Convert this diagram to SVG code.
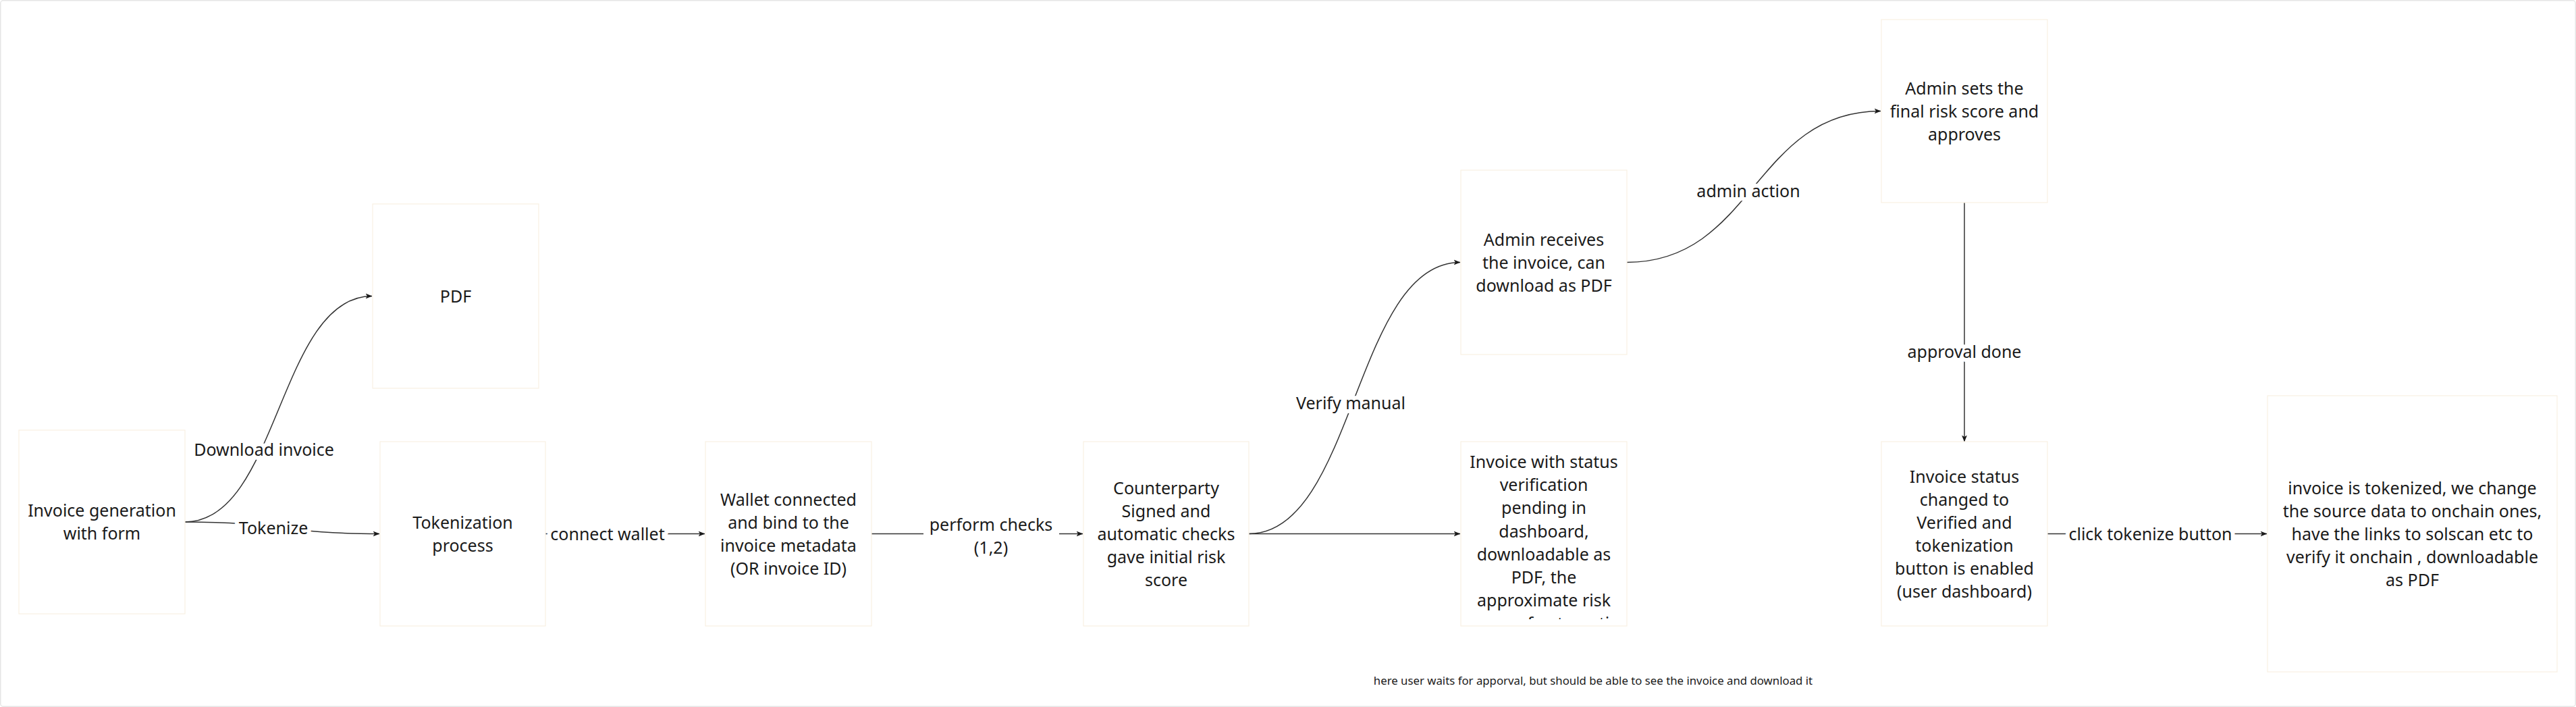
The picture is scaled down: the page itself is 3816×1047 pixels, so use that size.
<svg xmlns="http://www.w3.org/2000/svg" width="3816" height="1047" viewBox="0 0 3816 1047">
<style>
.bg{fill:#ffffff}
.frame{fill:none;stroke:#e6e6e6;stroke-width:1.5}
.node rect{fill:#ffffff;stroke:#f8f0e3;stroke-width:1.2}
.t{font-family:"Noto Sans","Open Sans","DejaVu Sans",sans-serif;font-size:25px;fill:#1a1a1a;text-anchor:middle}
.lbl{font-family:"Noto Sans","Open Sans","DejaVu Sans",sans-serif;font-size:25px;fill:#1a1a1a;text-anchor:middle;stroke:#ffffff;stroke-width:12px;stroke-linejoin:round;paint-order:stroke}
.lblbg{fill:#ffffff}
.note{font-family:"Noto Sans","Open Sans","DejaVu Sans",sans-serif;font-size:16.8px;fill:#1a1a1a;text-anchor:middle}
.edge{fill:none;stroke:#333333;stroke-width:1.5}
</style>
<defs>
<marker id="arr" viewBox="0 0 10 10" refX="9.5" refY="5" markerWidth="10" markerHeight="10" markerUnits="userSpaceOnUse" orient="auto">
<path d="M0,1 L10,5 L0,9 L2.5,5 Z" fill="#1a1a1a"/>
</marker>
<clipPath id="clipPending"><rect x="2164" y="654" width="246" height="263"/></clipPath>
</defs>
<rect class="bg" x="0" y="0" width="3816" height="1047"/>
<rect class="frame" x="0.75" y="0.75" width="3814.5" height="1045.5" rx="4"/>

<g id="connectors">
<path class="edge" d="M274,773 C413,773 413,438.5 551,438.5" marker-end="url(#arr)"/>
<path class="edge" d="M274,773 C418,773 418,790.5 562,790.5" marker-end="url(#arr)"/>
<path class="edge" d="M808,790.5 L1044,790.5" marker-end="url(#arr)"/>
<path class="edge" d="M1291,790.5 L1604,790.5" marker-end="url(#arr)"/>
<path class="edge" d="M1850,790.5 C2006.5,790.5 2006.5,388.5 2163,388.5" marker-end="url(#arr)"/>
<path class="edge" d="M1850,790.5 L2163,790.5" marker-end="url(#arr)"/>
<path class="edge" d="M2410,388.5 C2598,388.5 2598,164.5 2786,164.5" marker-end="url(#arr)"/>
<path class="edge" d="M2910,300 L2910,654" marker-end="url(#arr)"/>
<path class="edge" d="M3033,790.5 L3358,790.5" marker-end="url(#arr)"/>
<text class="lbl" x="391" y="675">Download invoice</text>
<text class="lbl" x="405" y="791">Tokenize</text>
<text class="lbl" x="900" y="800">connect wallet</text>
<rect class="lblbg" x="1368" y="758" width="201" height="72"/>
<text class="lbl"><tspan x="1468" y="785.5">perform checks</tspan><tspan x="1468" y="819.5">(1,2)</tspan></text>
<text class="lbl" x="2001" y="606">Verify manual</text>
<text class="lbl" x="2590" y="292">admin action</text>
<text class="lbl" x="2910" y="530">approval done</text>
<text class="lbl" x="3185.5" y="800">click tokenize button</text>
</g>

<g id="node-invoice-generation" class="node">
<rect x="28" y="637" width="246" height="272"/>
<text class="t"><tspan x="151" y="765">Invoice generation</tspan><tspan x="151" y="799">with form</tspan></text>
</g>
<g id="node-pdf" class="node">
<rect x="552" y="302" width="246" height="273"/>
<text class="t" x="675" y="447.5">PDF</text>
</g>
<g id="node-tokenization" class="node">
<rect x="563" y="654" width="245" height="273"/>
<text class="t"><tspan x="685.5" y="782.5">Tokenization</tspan><tspan x="685.5" y="816.5">process</tspan></text>
</g>
<g id="node-wallet" class="node">
<rect x="1045" y="654" width="246" height="273"/>
<text class="t"><tspan x="1168" y="748.5">Wallet connected</tspan><tspan x="1168" y="782.5">and bind to the</tspan><tspan x="1168" y="816.5">invoice metadata</tspan><tspan x="1168" y="850.5">(OR invoice ID)</tspan></text>
</g>
<g id="node-counterparty" class="node">
<rect x="1605" y="654" width="245" height="273"/>
<text class="t"><tspan x="1727.5" y="731.5">Counterparty</tspan><tspan x="1727.5" y="765.5">Signed and</tspan><tspan x="1727.5" y="799.5">automatic checks</tspan><tspan x="1727.5" y="833.5">gave initial risk</tspan><tspan x="1727.5" y="867.5">score</tspan></text>
</g>
<g id="node-admin-receives" class="node">
<rect x="2164" y="252" width="246" height="273"/>
<text class="t"><tspan x="2287" y="363.5">Admin receives</tspan><tspan x="2287" y="397.5">the invoice, can</tspan><tspan x="2287" y="431.5">download as PDF</tspan></text>
</g>
<g id="node-pending" class="node">
<rect x="2164" y="654" width="246" height="273"/>
<text class="t" clip-path="url(#clipPending)"><tspan x="2287" y="693">Invoice with status</tspan><tspan x="2287" y="727.2">verification</tspan><tspan x="2287" y="761.4">pending in</tspan><tspan x="2287" y="795.6">dashboard,</tspan><tspan x="2287" y="829.8">downloadable as</tspan><tspan x="2287" y="864">PDF, the</tspan><tspan x="2287" y="898.2">approximate risk</tspan><tspan x="2287" y="932.4">score of automatic</tspan></text>
</g>
<g id="node-admin-sets" class="node">
<rect x="2787" y="29" width="246" height="271"/>
<text class="t"><tspan x="2910" y="139.5">Admin sets the</tspan><tspan x="2910" y="173.5">final risk score and</tspan><tspan x="2910" y="207.5">approves</tspan></text>
</g>
<g id="node-status" class="node">
<rect x="2787" y="654" width="246" height="273"/>
<text class="t"><tspan x="2910" y="714.5">Invoice status</tspan><tspan x="2910" y="748.5">changed to</tspan><tspan x="2910" y="782.5">Verified and</tspan><tspan x="2910" y="816.5">tokenization</tspan><tspan x="2910" y="850.5">button is enabled</tspan><tspan x="2910" y="884.5">(user dashboard)</tspan></text>
</g>
<g id="node-final" class="node">
<rect x="3359" y="586" width="429" height="409"/>
<text class="t"><tspan x="3573.5" y="731.5">invoice is tokenized, we change</tspan><tspan x="3573.5" y="765.5">the source data to onchain ones,</tspan><tspan x="3573.5" y="799.5">have the links to solscan etc to</tspan><tspan x="3573.5" y="833.5">verify it onchain , downloadable</tspan><tspan x="3573.5" y="867.5">as PDF</tspan></text>
</g>
<g id="note">
<text class="note" x="2360" y="1014">here user waits for apporval, but should be able to see the invoice and download it</text>
</g>
</svg>
